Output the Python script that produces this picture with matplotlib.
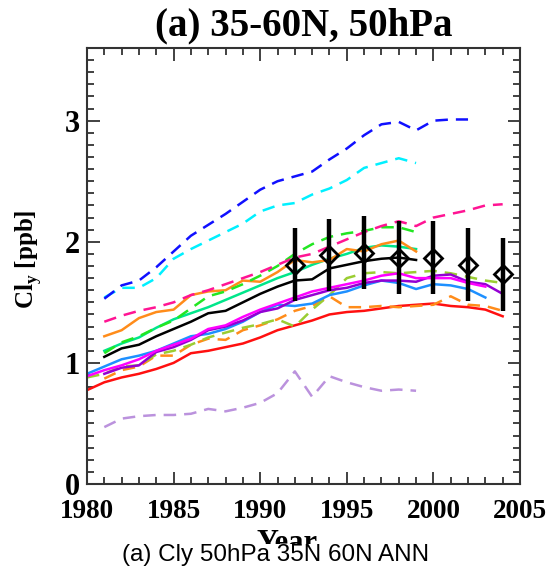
import numpy as np
import matplotlib
matplotlib.use("Agg")
import matplotlib.pyplot as plt
from matplotlib.ticker import MultipleLocator

# Cly 50hPa 35N-60N annual mean: models (lines) and obs (diamonds)
yrs_80_03 = np.arange(1980, 2004)
yrs_80_04 = np.arange(1980, 2005)
yrs_81_99 = np.arange(1981, 2000)
yrs_81_02 = np.arange(1981, 2003)
yrs_81_04 = np.arange(1981, 2005)

blue_dash = [1.53, 1.64, 1.68, 1.79, 1.92, 2.05, 2.14, 2.23, 2.33, 2.43, 2.50,
             2.54, 2.58, 2.68, 2.77, 2.88, 2.97, 2.99, 2.92, 3.00, 3.01, 3.01]
cyan_dash = [1.54, 1.62, 1.62, 1.70, 1.86, 1.94, 2.01, 2.08, 2.15, 2.25, 2.30,
             2.32, 2.39, 2.44, 2.51, 2.61, 2.65, 2.69, 2.65]
pink_dash = [1.34, 1.39, 1.43, 1.46, 1.50, 1.56, 1.60, 1.65, 1.70, 1.75, 1.81,
             1.87, 1.90, 1.96, 2.02, 2.08, 2.13, 2.17, 2.13, 2.20, 2.23, 2.26,
             2.30, 2.31]
green_dash = [1.08, 1.17, 1.22, 1.29, 1.35, 1.45, 1.55, 1.59, 1.65, 1.72, 1.80,
              1.90, 1.98, 2.04, 2.07, 2.09, 2.12, 2.12, 2.08]
orange = [1.22, 1.27, 1.37, 1.42, 1.44, 1.56, 1.59, 1.60, 1.68, 1.67, 1.75,
          1.85, 1.83, 1.85, 1.94, 1.92, 1.98, 2.01, 1.92]
spring = [1.10, 1.16, 1.21, 1.29, 1.36, 1.41, 1.46, 1.52, 1.58, 1.64, 1.70,
          1.75, 1.81, 1.86, 1.90, 1.95, 1.97, 1.96, 1.94]
black = [1.05, 1.12, 1.15, 1.22, 1.28, 1.34, 1.41, 1.43, 1.50, 1.57, 1.63,
         1.68, 1.69, 1.78, 1.81, 1.84, 1.86, 1.87, 1.85]
magenta = [0.89, 0.94, 0.98, 1.03, 1.10, 1.15, 1.20, 1.28, 1.31, 1.38, 1.44,
           1.49, 1.54, 1.59, 1.62, 1.65, 1.68, 1.72, 1.74, 1.70, 1.70, 1.70,
           1.66, 1.63]
purple = [0.91, 0.96, 0.98, 1.09, 1.13, 1.19, 1.27, 1.30, 1.35, 1.42, 1.45,
          1.52, 1.56, 1.60, 1.62, 1.66, 1.68, 1.68, 1.67, 1.72, 1.73, 1.67,
          1.65, 1.57]
dodger = [0.91, 0.97, 1.03, 1.06, 1.10, 1.16, 1.22, 1.24, 1.28, 1.34, 1.42,
          1.48, 1.47, 1.49, 1.56, 1.59, 1.64, 1.68, 1.66, 1.61, 1.65, 1.64,
          1.61, 1.54]
ygreen_dash = [0.88, 0.91, 0.97, 0.98, 1.07, 1.10, 1.15, 1.21, 1.25, 1.29, 1.32,
               1.36, 1.30, 1.44, 1.56, 1.70, 1.74, 1.75, 1.74, 1.75, 1.76, 1.74,
               1.71, 1.68, 1.66]
orange_dash = [0.87, 0.94, 0.97, 1.06, 1.06, 1.15, 1.20, 1.19, 1.27, 1.31, 1.36,
               1.43, 1.47, 1.55, 1.46, 1.46, 1.47, 1.46, 1.47, 1.48, 1.55, 1.48,
               1.47, 1.43]
red = [0.775, 0.84, 0.88, 0.91, 0.95, 1.00, 1.08, 1.10, 1.13, 1.16, 1.21, 1.27,
       1.31, 1.35, 1.40, 1.42, 1.43, 1.45, 1.47, 1.48, 1.49, 1.47, 1.46, 1.44,
       1.385]
lavender_dash = [0.47, 0.54, 0.56, 0.57, 0.57, 0.58, 0.62, 0.60, 0.63, 0.67,
                 0.75, 0.93, 0.72, 0.89, 0.84, 0.80, 0.77, 0.78, 0.77]

obs_years = [1992, 1994, 1996, 1998, 2000, 2002, 2004]
obs_cly = [1.81, 1.89, 1.91, 1.87, 1.87, 1.81, 1.73]
obs_err = [0.30, 0.30, 0.30, 0.30, 0.30, 0.30, 0.30]

serif = ["Liberation Serif", "DejaVu Serif"]

fig = plt.figure(figsize=(5.52, 5.73), dpi=100)
ax = fig.add_axes([0.1576, 0.1553, 0.7844, 0.7609])

lw = 1.8
dash = (5, 3.2)

series = [
    (yrs_81_99, lavender_dash, "#bb92dd", True),
    (yrs_80_04, red, "#ff1010", False),
    (yrs_81_04, orange_dash, "#ff8c1a", True),
    (yrs_80_04, ygreen_dash, "#9acd32", True),
    (yrs_80_03, dodger, "#1e90ff", False),
    (yrs_81_04, purple, "#9400d3", False),
    (yrs_80_03, magenta, "#ff00ff", False),
    (yrs_81_99, black, "black", False),
    (yrs_81_99, spring, "#00e68a", False),
    (yrs_81_99, orange, "#ff8c1a", False),
    (yrs_81_99, green_dash, "#22e622", True),
    (yrs_81_04, pink_dash, "#ff1493", True),
    (yrs_81_99, cyan_dash, "#00f0ff", True),
    (yrs_81_02, blue_dash, "#1010ff", True),
]

for x, y, c, dashed in series:
    line, = ax.plot(x, y, color=c, lw=lw)
    if dashed:
        line.set_dashes(dash)

ax.errorbar(obs_years, obs_cly, yerr=obs_err, fmt="D", color="black",
            mfc="none", mec="black", mew=2, ms=9, elinewidth=3.2,
            capsize=0, zorder=5)

ax.set_xlim(1980, 2005)
ax.set_ylim(0, 3.6)
ax.xaxis.set_major_locator(MultipleLocator(5))
ax.xaxis.set_minor_locator(MultipleLocator(1))
ax.yaxis.set_major_locator(MultipleLocator(1))
ax.yaxis.set_minor_locator(MultipleLocator(0.1))
ax.tick_params(which="both", direction="in", top=True, right=True,
               color="#333333", width=1.3)
ax.tick_params(which="major", length=9)
ax.tick_params(which="minor", length=5)
ax.tick_params(axis="x", which="major", pad=11)
ax.tick_params(axis="y", which="major", pad=5)
for s in ax.spines.values():
    s.set_linewidth(1.5)
    s.set_color("#333333")

for lab in ax.get_xticklabels():
    lab.set_fontfamily(serif)
    lab.set_fontweight("bold")
    lab.set_fontsize(19.5)
for lab in ax.get_yticklabels():
    lab.set_fontfamily(serif)
    lab.set_fontweight("bold")
    lab.set_fontsize(22)
ax.get_yticklabels()[0].set_va("bottom")

ax.set_title("(a) 35-60N, 50hPa", family=serif, fontweight="bold",
             fontsize=28, pad=9)
ax.set_ylabel("Cl$_\\mathregular{y}$ [ppb]", family=serif, fontweight="bold",
              fontsize=18)
ax.yaxis.set_label_coords(-0.10, 0.516)
ax.set_xlabel("Year", family=serif, fontweight="bold", fontsize=22)
ax.xaxis.set_label_coords(0.462, -0.103)

# caption sits on a white box, hiding the lower half of "Year" as in the original
fig.text(0.5, 0.032, "(a) Cly 50hPa 35N 60N ANN", ha="center", va="center",
         family=["Liberation Sans", "DejaVu Sans"], fontsize=17.5,
         bbox=dict(facecolor="white", edgecolor="none", pad=0.0))

fig.savefig("out.png", dpi=100)
